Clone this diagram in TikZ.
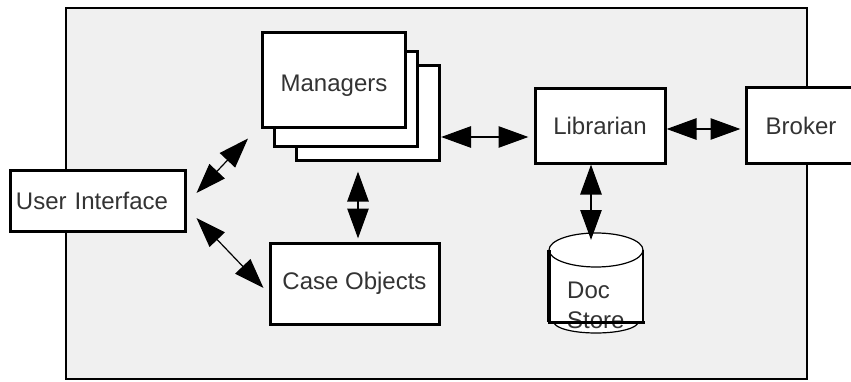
\documentclass[tikz,border=0pt]{standalone}
\usepackage{fontspec}
\setmainfont{Liberation Sans}
\usetikzlibrary{arrows.meta, calc}
\definecolor{panel}{HTML}{F0F0F0}
\definecolor{ink}{HTML}{333333}
\tikzset{
	box/.style={rectangle, draw, fill=white, line width=3pt, inner sep=0pt,
		align=center, text=ink, font=\fontsize{24}{30}\selectfont},
	mbox/.style={box, minimum width=143pt, minimum height=94pt},
	arr/.style={{Triangle[length=30pt, width=21pt]}-{Triangle[length=30pt, width=21pt]}, line width=2.7pt},
	tarr/.style={arr, line width=1.2pt},
	lbl/.style={inner sep=0pt, align=left, text=ink, font=\fontsize{24}{30}\selectfont},
}

\begin{document}
\begin{tikzpicture}[x=1pt, y=1pt]
	\useasboundingbox (0,0) rectangle (851,381);
	\draw[fill=panel, line width=2pt] (66,2) rectangle (807,373);

	\node[mbox] (mgr) at (334,301) {};
	\node[mbox] (mgr3) at ($(mgr)+(34,-33)$) {};
	\node[mbox] (mgr2) at ($(mgr)+(12,-19)$) {};
	\node[mbox, text height=27pt, text depth=5pt] (mgr) at (334,301) {Managers};
	\node[box, minimum width=130pt, minimum height=74pt] (lib) at (600,255) {Librarian};
	\node[box, minimum width=110pt, minimum height=75pt] (broker) at (801,255.5) {Broker};
	\node[box, text width=163pt, inner xsep=6pt, align=left, minimum height=61pt] (ui) at (97.5,180.5) {User Interface};
	\node[box, minimum width=169pt, minimum height=81pt] (case) at (354.5,97.5) {Case Objects};

	% doc store drum
	\coordinate (dbc) at (596,131);
	\coordinate (dbtop) at (591,141);
	\fill[white] ($(dbc)+(-47,0)$) -- ($(dbc)+(-47,-72)$) -- ($(dbc)+(-42,-72)$)
		arc[start angle=180, end angle=360, x radius=42, y radius=11]
		-- ($(dbc)+(47,-72)$) -- ($(dbc)+(47,0)$)
		arc[start angle=0, end angle=180, x radius=47, y radius=17];
	\draw[line width=1.2pt] (dbc) ellipse[x radius=47, y radius=17];
	\draw[line width=4pt] ($(dbc)+(-47,0)$) -- ($(dbc)+(-47,-72)$);
	\draw[line width=2.5pt] ($(dbc)+(47,0)$) -- ($(dbc)+(47,-72)$);
	\draw[line width=1.2pt] ($(dbc)+(-42,-72)$) arc[start angle=180, end angle=360, x radius=42, y radius=11];
	\node[lbl, anchor=north west] (store) at (567,99) {Doc\\Store};
	\draw[line width=3pt] ($(dbc)+(-48.5,-72)$) -- ($(dbc)+(48.5,-72)$);

	\coordinate (m3r) at ([yshift=-24]mgr3.east);
	\coordinate (lbr) at ([yshift=-3]lib.east);
	\draw[arr, shorten >=5pt] (m3r) -- (m3r -| lib.west);
	\draw[arr, shorten >=4pt] (lbr) -- (lbr -| broker.west);
	\draw[arr] ([xshift=-9]lib.south) -- (dbtop);
	\draw[arr, shorten <=3pt, shorten >=10pt] ([xshift=3.5]case.north) -- ([xshift=3.5]case.north |- mgr3.south);
	\draw[tarr] ([shift={(10,7.5)}]ui.east) -- ([shift={(-13,-10)}]mgr.south west);
	\draw[tarr] ([shift={(10,-17.5)}]ui.east) -- ([shift={(-5,-4.5)}]case.west);
\end{tikzpicture}
\end{document}
